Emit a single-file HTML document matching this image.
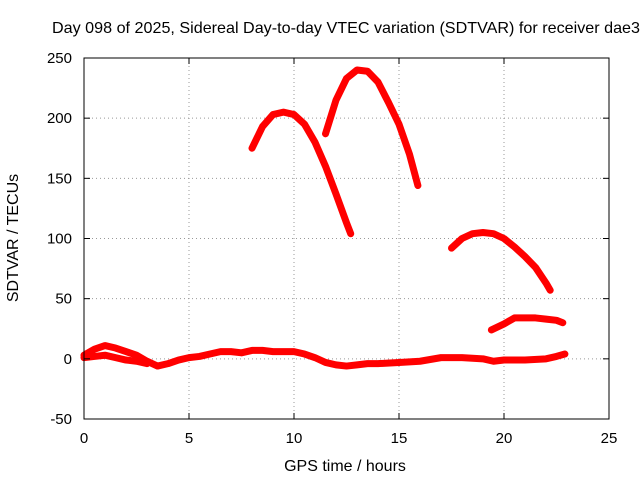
<!DOCTYPE html>
<html><head><meta charset="utf-8"><style>
body{margin:0;background:#fff;}
svg{display:block;font-family:"Liberation Sans",sans-serif;font-size:15px;}
</style></head><body>
<svg id="chart" width="640" height="480">
<text x="52" y="33" font-size="16" textLength="588" lengthAdjust="spacingAndGlyphs">Day 098 of 2025, Sidereal Day-to-day VTEC variation (SDTVAR) for receiver dae3</text>
<g id="grid"></g><g id="series"></g>
<rect x="84" y="58" width="525" height="361" fill="none" stroke="#000"/>
<g id="ticks"></g>
<text x="345" y="471" text-anchor="middle" font-size="16">GPS time / hours</text>
<text transform="translate(18,238) rotate(-90)" text-anchor="middle" font-size="16">SDTVAR / TECUs</text>
</svg>
<script>
const xTicks=[0,5,10,15,20,25];
const yTicks=[-50,0,50,100,150,200,250];
const baseT=[0,0.5,1,1.5,2,2.5,3,3.5,4,4.5,5,5.5,6,6.5,7,7.5,8,8.5,9,9.5,10,10.5,11,11.5,12,12.5,13,13.5,14,15,16,17,18,19,19.5,20,21,22,22.5,22.9];
const baseV=[3,8,11,9,6,3,-2,-6,-4,-1,1,2,4,6,6,5,7,7,6,6,6,4,1,-3,-5,-6,-5,-4,-4,-3,-2,1,1,0,-2,-1,-1,0,2,4];
const base2T=[0,0.5,1,1.5,2,2.5,3];
const base2V=[1,2,3,1,-1,-2,-4];
const arc1T=[8,8.5,9,9.5,10,10.5,11,11.5,12,12.5,12.7];
const arc1V=[175,193,203,205,203,195,180,160,137,113,104];
const arc2T=[11.5,12,12.5,13,13.5,14,14.5,15,15.5,15.9];
const arc2V=[187,215,233,240,239,230,213,195,170,144];
const arc3T=[17.5,18,18.5,19,19.5,20,20.5,21,21.5,22,22.2];
const arc3V=[92,100,104,105,104,100,93,85,76,63,57];
const arc4T=[19.4,20,20.5,21,21.5,22,22.5,22.8];
const arc4V=[24,29,34,34,34,33,32,30];
const sx=t=>84+t*21, sy=v=>419-(v+50)*361/300;
const NS="http://www.w3.org/2000/svg";
const grid=document.getElementById('grid'),ticks=document.getElementById('ticks'),ser=document.getElementById('series');
function mk(tag,attrs,parent){const e=document.createElementNS(NS,tag);for(const k in attrs)e.setAttribute(k,attrs[k]);parent.appendChild(e);return e;}
xTicks.forEach(t=>{const x=sx(t);
 if(t>0&&t<25){const g=mk('line',{x1:x,x2:x,y1:58,y2:419,stroke:'#999','stroke-dasharray':'1,3'},grid);
 
 }
 const tx=mk('text',{x:x,y:443,'text-anchor':'middle'},ticks);tx.textContent=t;
 
 
 mk('line',{x1:x,x2:x,y1:419,y2:413,stroke:'#000'},ticks);mk('line',{x1:x,x2:x,y1:58,y2:64,stroke:'#000'},ticks);});
yTicks.forEach(v=>{const y=sy(v);
 if(v>-50&&v<250){const g=mk('line',{x1:84,x2:609,y1:y,y2:y,stroke:'#999','stroke-dasharray':'1,3'},grid);
 
 }
 const tx=mk('text',{x:72,y:y+5,'text-anchor':'end'},ticks);tx.textContent=v;
 
 
 mk('line',{x1:84,x2:90,y1:y,y2:y,stroke:'#000'},ticks);mk('line',{x1:609,x2:603,y1:y,y2:y,stroke:'#000'},ticks);});
function draw(T,V,name){const pts=T.map((t,i)=>sx(t)+','+sy(V[i])).join(' ');
 const p=mk('polyline',{points:pts,fill:'none',stroke:'#f00','stroke-width':7,'stroke-linejoin':'round','stroke-linecap':'round'},ser);
 
 }
draw(baseT,baseV,'series-baseline');
draw(base2T,base2V,'series-baseline-2');
draw(arc1T,arc1V,'series-arc-1');
draw(arc2T,arc2V,'series-arc-2');
draw(arc3T,arc3V,'series-arc-3');
draw(arc4T,arc4V,'series-arc-4');
</script>
</body></html>
